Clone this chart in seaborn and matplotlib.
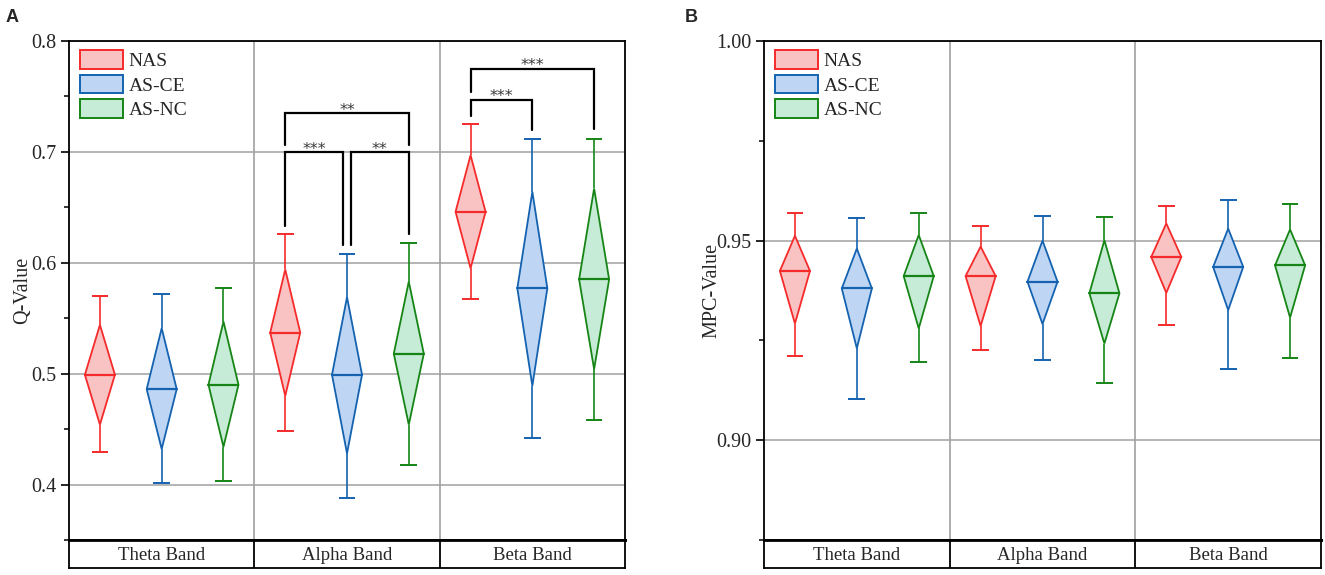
import numpy as np
import pandas as pd
import matplotlib
matplotlib.use("Agg")
import matplotlib.pyplot as plt
import seaborn as sns
from matplotlib.patches import Polygon, Patch

sns.set_theme(style="white")
plt.rcParams["font.family"] = ["Liberation Serif", "DejaVu Serif"]

bands = ["Theta Band", "Alpha Band", "Beta Band"]
groups = ["NAS", "AS-CE", "AS-NC"]

# rows = bands, columns = groups
q_whishi = [[0.570, 0.572, 0.577], [0.626, 0.608, 0.618], [0.725, 0.712, 0.712]]
q_hi = [[0.544, 0.541, 0.547], [0.594, 0.569, 0.583], [0.697, 0.664, 0.667]]
q_med = [[0.499, 0.486, 0.490], [0.537, 0.499, 0.518], [0.646, 0.577, 0.585]]
q_lo = [[0.454, 0.432, 0.434], [0.480, 0.428, 0.454], [0.595, 0.489, 0.504]]
q_whislo = [[0.429, 0.401, 0.403], [0.448, 0.388, 0.418], [0.567, 0.442, 0.458]]

mpc_whishi = [[0.9568, 0.9557, 0.9568], [0.9536, 0.9561, 0.9558], [0.9586, 0.9602, 0.9591]]
mpc_hi = [[0.9512, 0.9480, 0.9514], [0.9485, 0.9500, 0.9501], [0.9543, 0.9530, 0.9528]]
mpc_med = [[0.9424, 0.9380, 0.9411], [0.9411, 0.9397, 0.9368], [0.9459, 0.9434, 0.9438]]
mpc_lo = [[0.9292, 0.9230, 0.9280], [0.9286, 0.9291, 0.9242], [0.9369, 0.9326, 0.9307]]
mpc_whislo = [[0.9211, 0.9102, 0.9196], [0.9226, 0.9202, 0.9144], [0.9288, 0.9178, 0.9207]]

# significance brackets on panel A: band, group1, group2, top, left end, right end, label
sig_band = [1, 1, 1, 2, 2]
sig_g1 = [0, 1, 0, 0, 0]
sig_g2 = [1, 2, 2, 1, 2]
sig_top = [0.700, 0.700, 0.735, 0.747, 0.775]
sig_left = [0.633, 0.616, 0.706, 0.732, 0.754]
sig_right = [0.616, 0.626, 0.706, 0.720, 0.721]
sig_label = ["***", "**", "**", "***", "***"]

edge_colors = ["#f52a2a", "#1462b0", "#168516"]
fill_colors = ["#fac3c3", "#bed6f4", "#c6ebd7"]
offsets = [-1 / 3, 0, 1 / 3]
hw = 0.081   # diamond half width
cw = 0.045   # cap half width
grid_col = "#a0a0a0"


def long_table(whislo, lo, med, hi, whishi):
    rows = []
    for i, b in enumerate(bands):
        for j, g in enumerate(groups):
            rows.append({"band": b, "bi": i, "group": g, "gi": j,
                         "whislo": whislo[i][j], "lo": lo[i][j], "med": med[i][j],
                         "hi": hi[i][j], "whishi": whishi[i][j]})
    return pd.DataFrame(rows)


def draw_panel(ax, df):
    for _, r in df.iterrows():
        x = r.bi + 0.5 + offsets[r.gi]
        ec, fc = edge_colors[r.gi], fill_colors[r.gi]
        ax.vlines(x, r.hi, r.whishi, color=ec, lw=1.2, zorder=2)
        ax.vlines(x, r.whislo, r.lo, color=ec, lw=1.2, zorder=2)
        ax.hlines([r.whislo, r.whishi], x - cw, x + cw, color=ec, lw=1.4, zorder=2)
        poly = Polygon([(x, r.hi), (x + hw, r.med), (x, r.lo), (x - hw, r.med)],
                       closed=True, facecolor=fc, edgecolor=ec, lw=1.3, zorder=3)
        ax.add_patch(poly)
        ax.plot([x - hw, x + hw], [r.med, r.med], color=ec, lw=1.6, zorder=4)
    ax.set_xlim(0, 3)
    ax.set_xticks([])
    ax.set_axisbelow(True)
    ax.grid(axis="y", color=grid_col, lw=1.1)
    for xv in [1, 2]:
        ax.axvline(xv, color=grid_col, lw=1.2, zorder=0)
    for s in ["left", "top", "right"]:
        ax.spines[s].set_color("black")
        ax.spines[s].set_linewidth(1.3)
    ax.spines["bottom"].set_color("black")
    ax.spines["bottom"].set_linewidth(2.0)
    ax.tick_params(axis="y", which="major", left=True, direction="out",
                   length=6, width=1.2, color="black", labelsize=14.5, pad=3)
    ax.tick_params(axis="y", which="minor", left=True, direction="out",
                   length=3.4, width=1.1, color="black")
    handles = [Patch(facecolor=fill_colors[k], edgecolor=edge_colors[k], lw=1.4, label=groups[k])
               for k in range(3)]
    ax.legend(handles=handles, loc="upper left", bbox_to_anchor=(0.02, 0.982),
              frameon=False, fontsize=14, handlelength=2.2, handleheight=1.1,
              labelspacing=0.24, handletextpad=0.3, borderaxespad=0, borderpad=0)


def draw_strip(ax):
    ax.set_xlim(0, 3)
    ax.set_ylim(0, 1)
    ax.set_xticks([])
    ax.set_yticks([])
    for s in ax.spines.values():
        s.set_color("black")
        s.set_linewidth(1.3)
    ax.spines["top"].set_linewidth(2.0)
    for xv in [1, 2]:
        ax.axvline(xv, color="black", lw=1.3)
    for i, b in enumerate(bands):
        ax.text(i + 0.5, 0.45, b, ha="center", va="center", fontsize=13.5)


fig = plt.figure(figsize=(13.25, 5.75), dpi=100)

axA = fig.add_axes([0.0521, 0.0609, 0.4196, 0.8678])
stripA = fig.add_axes([0.0521, 0.0122, 0.4196, 0.0487])
axB = fig.add_axes([0.5766, 0.0609, 0.4204, 0.8678])
stripB = fig.add_axes([0.5766, 0.0122, 0.4204, 0.0487])

dfA = long_table(q_whislo, q_lo, q_med, q_hi, q_whishi)
dfB = long_table(mpc_whislo, mpc_lo, mpc_med, mpc_hi, mpc_whishi)

draw_panel(axA, dfA)
axA.set_ylim(0.35, 0.8)
axA.set_yticks([0.4, 0.5, 0.6, 0.7, 0.8])
axA.set_yticklabels(["0.4", "0.5", "0.6", "0.7", "0.8"])
axA.set_yticks([0.35, 0.45, 0.55, 0.65, 0.75], minor=True)
axA.set_ylabel("Q-Value", fontsize=14.5)
axA.yaxis.set_label_coords(-0.066, 0.5)

draw_panel(axB, dfB)
axB.set_ylim(0.875, 1.0)
axB.set_yticks([0.90, 0.95, 1.00])
axB.set_yticklabels(["0.90", "0.95", "1.00"])
axB.set_yticks([0.875, 0.925, 0.975], minor=True)
axB.set_ylabel("MPC-Value", fontsize=14.5)
axB.yaxis.set_label_coords(-0.076, 0.5)

# significance brackets
gap = 0.02
for k in range(len(sig_label)):
    b, g1, g2 = sig_band[k], sig_g1[k], sig_g2[k]
    x1 = b + 0.5 + offsets[g1]
    x2 = b + 0.5 + offsets[g2]
    shared = [m for m in range(len(sig_label)) if m != k and sig_band[m] == b]
    if any(sig_g2[m] == g1 for m in shared):
        x1 += gap
    if any(sig_g1[m] == g2 for m in shared):
        x2 -= gap
    axA.plot([x1, x1, x2, x2], [sig_left[k], sig_top[k], sig_top[k], sig_right[k]],
             color="black", lw=1.6, zorder=5, solid_joinstyle="miter")
    axA.text((x1 + x2) / 2, sig_top[k] - 0.0015, sig_label[k], ha="center",
             va="baseline", fontsize=11.5, color="#3a3a3a", family="DejaVu Sans")

draw_strip(stripA)
draw_strip(stripB)

fig.text(0.004, 0.985, "A", fontsize=13, fontweight="bold", family="Liberation Sans",
         ha="left", va="top")
fig.text(0.517, 0.985, "B", fontsize=13, fontweight="bold", family="Liberation Sans",
         ha="left", va="top")

fig.savefig("out.png", dpi=100)
